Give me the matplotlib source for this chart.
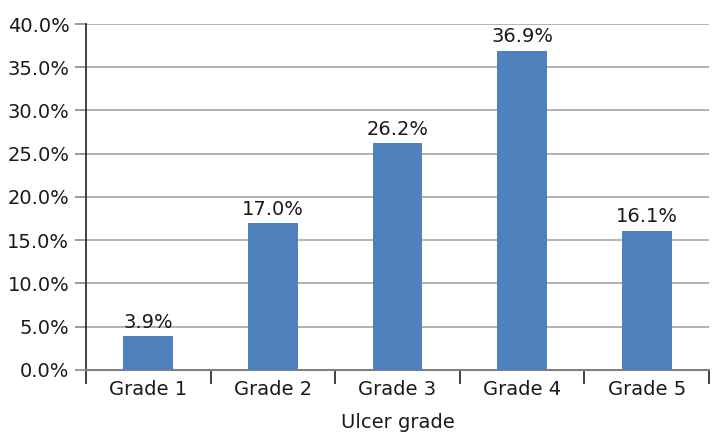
import matplotlib
matplotlib.use("Agg")
import matplotlib.pyplot as plt
import numpy as np
from matplotlib.ticker import FuncFormatter, FixedLocator

# Data
grades = ["Grade 1", "Grade 2", "Grade 3", "Grade 4", "Grade 5"]
percentages = [3.9, 17.0, 26.2, 36.9, 16.1]

bar_color = "#4F81BD"
grid_color = "#A6A6A6"
text_color = "#1A1A1A"
fs = 14

plt.rcParams["font.family"] = ["DejaVu Sans"]

fig = plt.figure(figsize=(7.21, 4.34), dpi=100)
ax = fig.add_axes([0.1193, 0.1475, 0.8641, 0.7972])

x = np.arange(len(grades))
ax.bar(x, percentages, width=0.4, color=bar_color, zorder=3)

# value labels above bars
for xi, v in zip(x, percentages):
    ax.text(xi, v + 0.5, f"{v:.1f}%", ha="center", va="bottom", fontsize=fs, color=text_color)

ax.set_xlim(-0.5, len(grades) - 0.5)
ax.set_ylim(0, 40)
ax.set_yticks(np.arange(0, 41, 5))
ax.yaxis.set_major_formatter(FuncFormatter(lambda v, p: f"{v:.1f}%"))
ax.yaxis.grid(True, color=grid_color, linewidth=1.2, zorder=0)
ax.set_axisbelow(True)

# category labels centered, ticks at category boundaries
ax.set_xticks(x)
ax.set_xticklabels(grades)
ax.xaxis.set_minor_locator(FixedLocator(np.arange(-0.5, len(grades), 1)))
ax.tick_params(axis="x", which="major", length=0, labelsize=fs, pad=7, colors=text_color)
ax.tick_params(axis="x", which="minor", length=10, width=1.2, color="#222222")
ax.tick_params(axis="y", length=8, width=1.2, color="#888888", labelsize=fs, pad=4, labelcolor=text_color)

ax.set_xlabel("Ulcer grade", fontsize=fs, labelpad=10, color=text_color)

for side in ["top", "right"]:
    ax.spines[side].set_visible(False)
ax.spines["left"].set_color("#222222")
ax.spines["left"].set_linewidth(1.2)
ax.spines["bottom"].set_color("#808080")
ax.spines["bottom"].set_linewidth(1.5)

fig.savefig("out.png", dpi=100)
